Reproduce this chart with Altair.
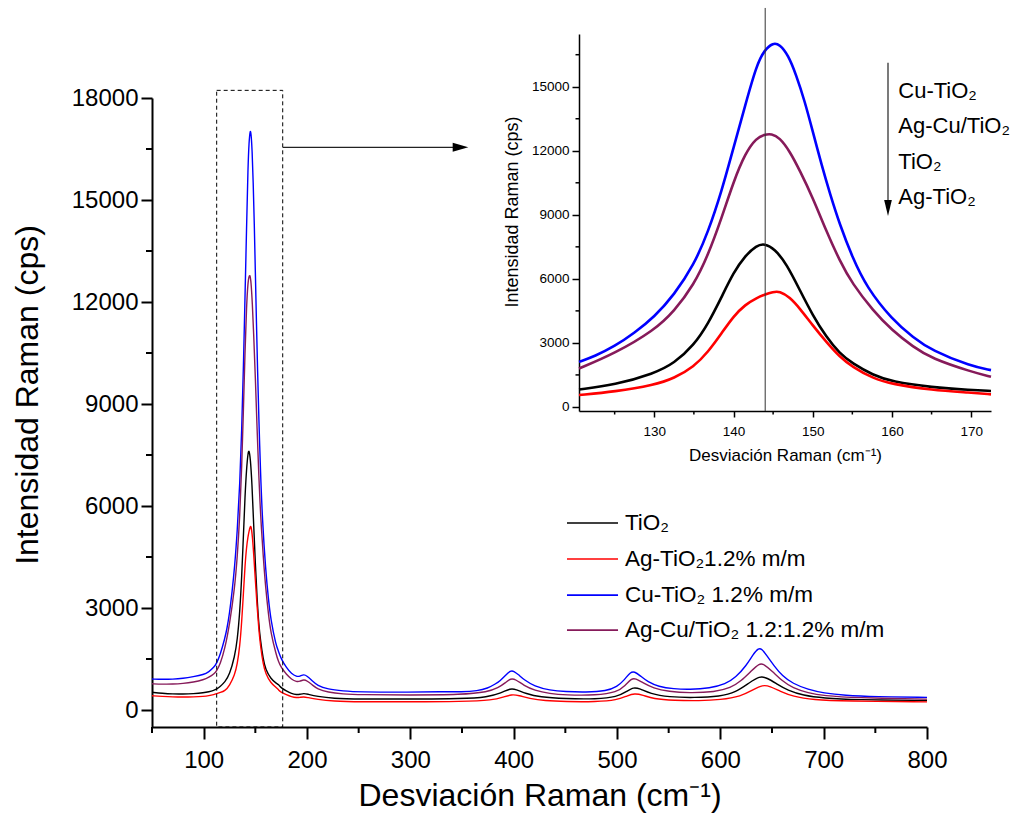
import altair as alt
import pandas as pd

# ---------------- data ----------------
series_names = ["TiO2", "Ag-TiO2", "Cu-TiO2", "Ag-Cu/TiO2"]
series_colors = ["#000000", "#ff0000", "#0000ff", "#861a5a"]

tio2 = [(50,520),(60,490),(70,470),(80,470),(90,480),(100,505),(105,535),(110,580),(112.5,615),(116,690),
        (120.5,820),(125,1030),(130,1570),(132.5,2040),(135,2890),(136.8,3900),(138.5,5150),(140,6300),
        (141.5,7100),(142.9,7560),(143.9,7660),(145.2,7400),(146.7,6700),(148.4,5450),(150,4290),(151.7,3280),
        (153.4,2500),(155,2040),(157.6,1490),(160,1180),(165,920),(170,790),(172.5,750),(175,650),(180,560),
        (185,480),(190,450),(193,460),(197,490),(200,470),(210,400),(225,340),(250,320),(300,320),(350,330),
        (375,380),(388,500),(397,640),(402,610),(412,480),(425,380),(450,330),(480,320),(500,380),(510,560),
        (516,670),(522,630),(532,480),(550,380),(575,360),(600,400),(615,520),(628,800),(638,1000),(645,950),
        (655,760),(665,580),(680,430),(700,350),(730,300),(800,280)]

ag_tio2 = [(50,420),(60,400),(70,385),(80,380),(90,385),(100,400),(105,420),(110,455),(112.5,480),(116,515),
           (120.5,560),(125,715),(130,1030),(132.5,1340),(135,1880),(136.8,2580),(138.5,3450),(140,4250),
           (141.5,4800),(142.9,5100),(143.9,5260),(145,5390),(145.8,5430),(147.1,5140),(148.4,4600),(150,3820),
           (151.7,3050),(153.4,2350),(155,1880),(157.6,1340),(160,1070),(165,790),(170,670),(172.5,590),(175,520),
           (180,450),(185,390),(190,360),(193,370),(197,390),(200,370),(210,310),(225,260),(250,240),(300,240),
           (350,250),(380,290),(390,380),(398,460),(405,430),(415,340),(430,270),(450,245),(480,240),(500,290),
           (510,420),(517,490),(525,440),(535,330),(555,280),(580,270),(600,300),(620,400),(632,600),(641,740),
           (648,700),(658,550),(670,400),(690,300),(720,260),(800,240)]

cu_tio2 = [(50,910),(60,900),(70,905),(80,930),(90,980),(100,1040),(105,1120),(110,1260),(112.5,1370),(116,1620),
           (120.5,2110),(122.5,2380),(125,2840),(127.5,3470),(130,4210),(132.5,5250),(135,6650),(136.8,8200),
           (138.5,10100),(140,12140),(141.5,14160),(142.9,16000),(143.9,16720),(145.0,17060),(145.8,16990),
           (146.9,16490),(147.9,15560),(149.0,14310),(150.0,12910),(151.1,11360),(152.2,9960),(153.4,8560),
           (155,7010),(156.8,5610),(160,4100),(162.7,3250),(165,2650),(170,1900),(172.5,1725),(175,1500),
           (180,1250),(185,1060),(190,980),(193,990),(197,1050),(200,1000),(205,860),(210,720),(220,610),(235,560),
           (250,530),(300,520),(330,540),(350,530),(365,560),(375,640),(382,760),(387,860),(392,1020),(397,1160),
           (400,1150),(405,1030),(410,890),(420,700),(435,580),(450,540),(470,520),(490,560),(500,680),(507,880),
           (513,1120),(517,1130),(522,1020),(530,820),(540,690),(555,620),(570,600),(590,640),(605,760),(615,960),
           (625,1300),(632,1650),(637,1820),(640,1800),(645,1600),(652,1300),(660,1000),(670,780),(685,600),
           (700,500),(720,430),(750,390),(800,370)]

agcu_tio2 = [(50,770),(60,760),(70,760),(80,780),(90,820),(100,890),(105,960),(110,1060),(112.5,1150),(116,1350),
             (120.5,1800),(125,2500),(130,3590),(132.5,4480),(135,5720),(136.8,7120),(138.5,8850),(140,10550),
             (141.5,11900),(142.9,12600),(143.9,12760),(144.8,12800),(145.8,12620),(147.1,11980),(148.4,11050),
             (150,9810),(151.7,8250),(153.4,6850),(155,5770),(157.6,4520),(160,3590),(162.7,2810),(165,2270),
             (170,1650),(172.5,1410),(175,1250),(180,1050),(185,900),(190,830),(193,840),(197,900),(200,860),
             (205,740),(210,620),(220,520),(235,470),(250,450),(300,440),(350,450),(375,530),(385,650),(392,800),
             (397,930),(402,900),(410,720),(420,580),(435,480),(450,440),(480,430),(500,520),(508,720),(514,930),
             (518,930),(525,800),(535,640),(550,540),(570,500),(595,530),(610,650),(620,850),(630,1150),(638,1380),
             (642,1350),(650,1150),(660,850),(670,650),(685,500),(700,420),(730,360),(800,320)]

series_points = [tio2, ag_tio2, cu_tio2, agcu_tio2]

main_x_ticks = [100, 200, 300, 400, 500, 600, 700, 800]
main_x_minor = [50, 150, 250, 350, 450, 550, 650, 750]
main_y_ticks = [0, 3000, 6000, 9000, 12000, 15000, 18000]
main_y_minor = [1500, 4500, 7500, 10500, 13500, 16500]
inset_x_ticks = [130, 140, 150, 160, 170]
inset_x_minor = [125, 135, 145, 155, 165]
inset_y_ticks = [0, 3000, 6000, 9000, 12000, 15000]
inset_y_minor = [1500, 4500, 7500, 10500, 13500, 16500]

legend_labels = ["TiO₂", "Ag-TiO₂1.2% m/m", "Cu-TiO₂ 1.2% m/m", "Ag-Cu/TiO₂ 1.2:1.2% m/m"]
legend_y = [5500, 4440, 3380, 2350]
inset_labels = ["Cu-TiO₂", "Ag-Cu/TiO₂", "TiO₂", "Ag-TiO₂"]
inset_label_y = [14800, 13160, 11470, 9830]

# ---------------- tables ----------------
rows = []
for name, pts in zip(series_names, series_points):
    for i, (xv, yv) in enumerate(pts):
        rows.append({"x": xv, "y": yv, "s": name, "o": i})
df = pd.DataFrame(rows)
df_inset = df[(df.x >= 120.5) & (df.x <= 172.5)]

FONT = "Liberation Sans"
color_enc = alt.Color("s:N", scale=alt.Scale(domain=series_names, range=series_colors), legend=None)

# ---------------- main chart ----------------
mx = alt.Scale(domain=[50, 800], nice=False, zero=False)
my = alt.Scale(domain=[-500, 18000], nice=False, zero=False)

ax_main_x = alt.Axis(orient="bottom", values=main_x_ticks, format="d", grid=False,
                     title="Desviación Raman (cm⁻¹)",
                     domainColor="black", domainWidth=2, tickColor="black", tickWidth=2, tickSize=12,
                     labelFont=FONT, labelFontSize=24, labelColor="black", labelPadding=9,
                     labelFlush=False, labelOverlap=False,
                     titleFont=FONT, titleFontSize=32, titleFontWeight="normal", titleColor="black",
                     titleY=78, titleBaseline="alphabetic")
ax_main_y = alt.Axis(orient="left", values=main_y_ticks, format="d", grid=False,
                     title="Intensidad Raman (cps)",
                     domainColor="black", domainWidth=2, tickColor="black", tickWidth=2, tickSize=11,
                     labelFont=FONT, labelFontSize=24, labelColor="black", labelPadding=3,
                     labelFlush=False, labelOverlap=False,
                     titleFont=FONT, titleFontSize=32, titleFontWeight="normal", titleColor="black",
                     titleX=-115, titleY=296.5, titleBaseline="alphabetic")

main_lines = alt.Chart(df).mark_line(strokeWidth=1.4, interpolate="basis").encode(
    x=alt.X("x:Q", scale=mx, axis=ax_main_x),
    y=alt.Y("y:Q", scale=my, axis=ax_main_y),
    color=color_enc,
    order="o:Q",
)

main_minor_y = alt.Chart(pd.DataFrame({"x": [50] * len(main_y_minor), "y": main_y_minor})).mark_tick(
    orient="horizontal", size=6, thickness=2, color="black", opacity=1, xOffset=-3).encode(
    x="x:Q", y="y:Q")
main_minor_x = alt.Chart(pd.DataFrame({"x": main_x_minor, "y": [-500] * len(main_x_minor)})).mark_tick(
    orient="vertical", size=6, thickness=2, color="black", opacity=1, yOffset=3).encode(
    x="x:Q", y="y:Q")

box_df = pd.DataFrame({"x": [112.6], "x2": [176.5], "y": [-500], "y2": [18225]})
box = alt.Chart(box_df).mark_rect(fillOpacity=0, stroke="black", strokeWidth=1, strokeDash=[4, 3]).encode(
    x="x:Q", x2="x2:Q", y="y:Q", y2="y2:Q")

arrow_df = pd.DataFrame({"x": [176.5], "x2": [345.0], "y": [16550]})
arrow = alt.Chart(arrow_df).mark_rule(color="#222222", strokeWidth=1.2).encode(x="x:Q", x2="x2:Q", y="y:Q")
head_df = pd.DataFrame({"x": [356.1], "y": [16550]})
head = alt.Chart(head_df).mark_point(shape="M-1,-0.29L-1,0.29L0,0Z", size=973, filled=True,
                                     color="black", opacity=1, strokeWidth=0).encode(x="x:Q", y="y:Q")

leg_df = pd.DataFrame({"x": [451.6] * 4, "x2": [501.0] * 4, "y": legend_y, "s": series_names,
                       "xt": [507.7] * 4, "t": legend_labels})
leg_lines = alt.Chart(leg_df).mark_rule(strokeWidth=1.6).encode(x="x:Q", x2="x2:Q", y="y:Q", color=color_enc)
leg_text = alt.Chart(leg_df).mark_text(align="left", baseline="middle", font=FONT, fontSize=22.5,
                                       color="black").encode(x="xt:Q", y="y:Q", text="t:N")

main_group = alt.layer(main_lines, main_minor_y, main_minor_x, box, arrow, head, leg_lines, leg_text)

# ---------------- inset ----------------
ix = alt.Scale(domain=[120.5, 172.5], range=[427, 839], nice=False, zero=False)
iy = alt.Scale(domain=[-190, 17470], range=[313, -64], nice=False, zero=False)

ax_in_x = alt.Axis(orient="bottom", offset=-316, values=inset_x_ticks, format="d", grid=False,
                   title="Desviación Raman (cm⁻¹)", domainColor="black", domainWidth=1.5,
                   tickColor="black", tickWidth=1.5, tickSize=6, labelFont=FONT, labelFontSize=13.5,
                   labelColor="black", labelPadding=7, labelFlush=False, labelOverlap=False,
                   titleFont=FONT, titleFontSize=17, titleFontWeight="normal", titleColor="black",
                   titleY=49, titleBaseline="alphabetic")
ax_in_y = alt.Axis(orient="left", offset=-427, values=inset_y_ticks, format="d", grid=False,
                   title="Intensidad Raman (cps)", domainColor="black", domainWidth=1.5,
                   tickColor="black", tickWidth=1.5, tickSize=7, labelFont=FONT, labelFontSize=13.5,
                   labelColor="black", labelPadding=3, labelFlush=False, labelOverlap=False,
                   titleFont=FONT, titleFontSize=18, titleFontWeight="normal", titleColor="black",
                   titleX=-62, titleY=113.5, titleBaseline="alphabetic")

inset_lines = alt.Chart(df_inset).mark_line(strokeWidth=2.6, interpolate="basis").encode(
    x=alt.X("x:Q", scale=ix, axis=ax_in_x),
    y=alt.Y("y:Q", scale=iy, axis=ax_in_y),
    color=color_enc,
    order="o:Q",
)

in_minor_y = alt.Chart(pd.DataFrame({"x": [120.5] * len(inset_y_minor), "y": inset_y_minor})).mark_tick(
    orient="horizontal", size=3.5, thickness=1.5, color="black", opacity=1, xOffset=-1.75).encode(
    x="x:Q", y="y:Q")
in_minor_x = alt.Chart(pd.DataFrame({"x": inset_x_minor, "y": [-190] * len(inset_x_minor)})).mark_tick(
    orient="vertical", size=3.5, thickness=1.5, color="black", opacity=1, yOffset=1.75).encode(
    x="x:Q", y="y:Q")

vline = alt.Chart(pd.DataFrame({"x": [144.0], "y": [-190], "y2": [18690]})).mark_rule(
    color="#333333", strokeWidth=1).encode(x="x:Q", y="y:Q", y2="y2:Q")

in_arrow = alt.Chart(pd.DataFrame({"x": [159.5], "y": [16125], "y2": [9400]})).mark_rule(
    color="#222222", strokeWidth=1.2).encode(x="x:Q", y="y:Q", y2="y2:Q")
in_head = alt.Chart(pd.DataFrame({"x": [159.5], "y": [8940]})).mark_point(
    shape="M-0.24,-1L0.24,-1L0,0Z", size=1024, filled=True, color="black", opacity=1, strokeWidth=0
).encode(x="x:Q", y="y:Q")

in_text = alt.Chart(pd.DataFrame({"x": [160.8] * 4, "y": inset_label_y, "t": inset_labels})).mark_text(
    align="left", baseline="middle", font=FONT, fontSize=22, color="black").encode(
    x="x:Q", y="y:Q", text="t:N")

inset_group = alt.layer(inset_lines, in_minor_y, in_minor_x, vline, in_arrow, in_head, in_text)

chart = alt.layer(main_group, inset_group).resolve_scale(
    x="independent", y="independent"
).properties(
    width=775, height=629,
    padding={"left": 152, "top": 98, "right": 91, "bottom": 87},
    autosize=alt.AutoSizeParams(type="none"),
    background="white",
).configure_view(stroke=None)

chart.save("out.html", embed_options={"renderer": "svg", "actions": False})
